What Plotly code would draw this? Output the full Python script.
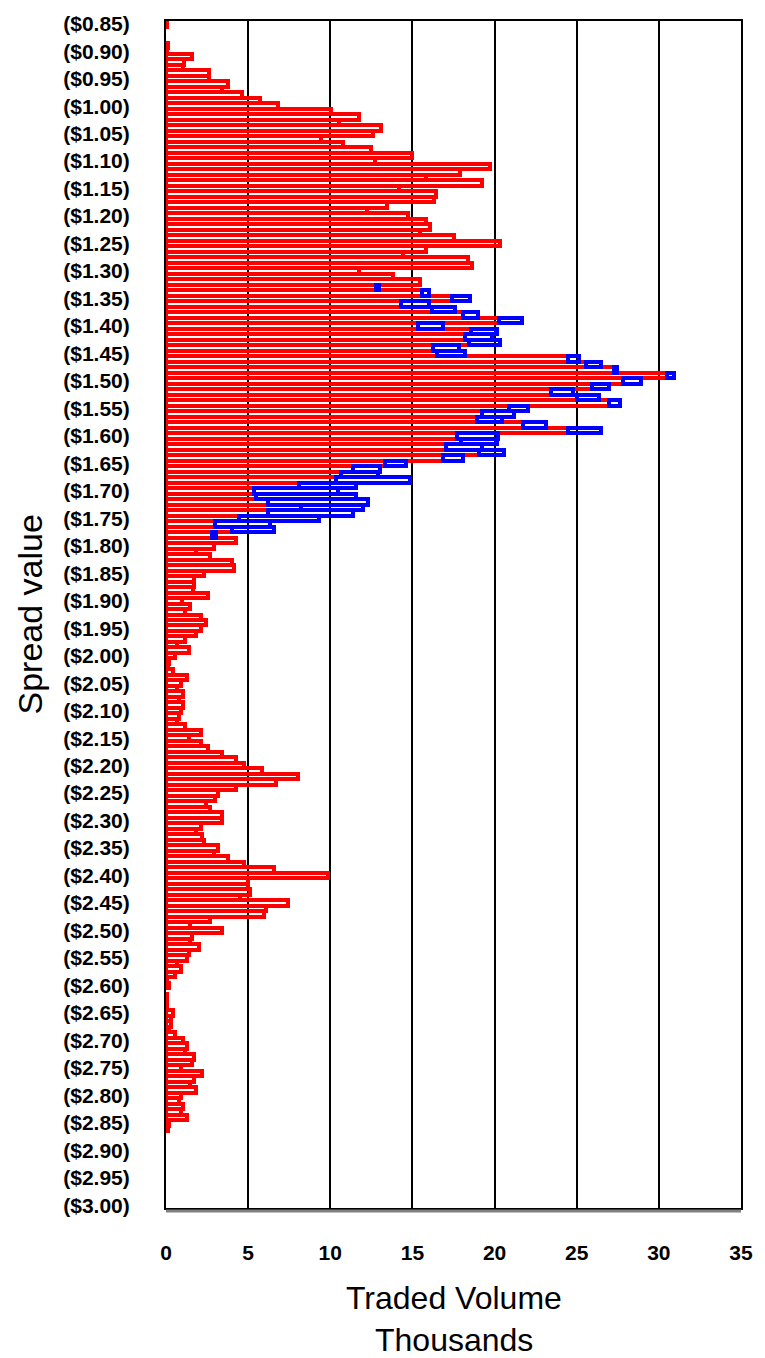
import plotly.graph_objects as go

# Spread values (categories), $0.85 .. $3.00 in cent steps
spread_cents = list(range(85, 301))
spread_labels = [f"(${c/100:.2f})" for c in spread_cents]
tick_labels = [lab for c, lab in zip(spread_cents, spread_labels) if c % 5 == 0]

# Traded volume (thousands) - first (red) series, one value per spread level
red_volume = [
    0.08, 0, 0, 0, 0.15, 0.05, 1.6, 1.12, 1.01, 2.59,
    2.59, 3.77, 3.43, 4.64, 5.72, 6.79, 10.03, 11.76, 10.55, 13.07,
    12.6, 9.45, 10.79, 12.47, 14.99, 12.7, 19.72, 17.9, 15.85, 19.24,
    14.17, 16.44, 16.33, 13.44, 12.21, 14.75, 15.85, 16.09, 15.49, 17.56,
    20.32, 15.85, 14.41, 18.4, 18.64, 11.76, 13.8, 15.49, 12.77, 15.6,
    17.43, 14.3, 16.18, 18.1, 20.27, 15.34, 18.55, 18.22, 18.43, 16.27,
    16.48, 24.47, 25.54, 27.26, 30.5, 27.82, 25.92, 23.41, 25.03, 26.95,
    20.88, 19.26, 18.96, 21.72, 24.47, 17.74, 17.94, 17.03, 19.06, 16.86,
    13.31, 11.36, 10.66, 10.33, 8.12, 5.34, 5.49, 6.2, 8.2, 6.21,
    4.42, 2.98, 3.99, 2.8, 4.27, 2.93, 1.83, 2.7, 4.03, 4.14,
    2.33, 1.73, 1.73, 1.62, 2.57, 1.0, 1.49, 1.13, 2.1, 2.46,
    2.1, 1.85, 1.13, 0.65, 1.37, 0.52, 0.16, 0.1, 0.4, 1.25,
    0.89, 0.65, 1.01, 0.77, 1.01, 0.89, 0.77, 0.65, 1.13, 2.1,
    1.37, 2.1, 2.58, 3.43, 4.27, 4.76, 5.85, 8.04, 6.69, 4.27,
    3.19, 3.0, 2.46, 2.7, 3.43, 3.43, 2.1, 1.85, 2.22, 2.34,
    3.19, 2.94, 3.79, 4.76, 6.57, 9.84, 5.0, 5.0, 5.12, 4.52,
    7.42, 6.09, 5.97, 2.7, 1.49, 3.43, 1.61, 1.49, 1.98, 1.37,
    1.25, 0.65, 0.89, 0.52, 0.04, 0.16, 0, 0.05, 0.05, 0.08,
    0.4, 0.28, 0.28, 0.16, 0.52, 1.01, 1.25, 1.13, 1.73, 1.61,
    0.89, 2.22, 1.73, 1.49, 1.85, 0.89, 0.77, 1.01, 0.89, 1.25,
    0.16, 0.1, 0, 0, 0, 0, 0, 0, 0, 0,
    0, 0, 0, 0, 0, 0,
]

# Second (blue) series, present only from ($1.33) to ($1.78)
blue_first_label = "($1.33)"
blue_volume = [
    0.2, 0.4, 1.08, 1.68, 1.42, 0.91, 1.37, 1.52, 1.57, 1.65,
    1.9, 1.55, 1.72, 0.66, 0.96, 0.2, 0.45, 1.08, 1.03, 1.37,
    1.32, 0.71, 1.14, 1.9, 1.52, 1.39, 2.03, 2.48, 2.18, 2.23,
    1.52, 1.21, 1.27, 1.65, 2.25, 4.5, 3.45, 5.14, 6.08, 6.1,
    3.79, 5.18, 4.92, 3.34, 2.57, 0.26,
]
start = spread_labels.index(blue_first_label)
blue_labels = spread_labels[start:start + len(blue_volume)]

x_ticks = [0, 5, 10, 15, 20, 25, 30, 35]

FONT = "Liberation Sans, Arial, sans-serif"

# empty levels are left without a bar
red_plot = [v if v > 0 else None for v in red_volume]

fig = go.Figure()
fig.add_trace(go.Bar(
    x=red_plot, y=spread_labels, orientation="h",
    marker=dict(color="rgba(0,0,0,0)", line=dict(color="#FF0000", width=4)),
    showlegend=False, hoverinfo="x+y",
))
fig.add_trace(go.Bar(
    x=blue_volume, y=blue_labels, orientation="h",
    marker=dict(color="rgba(0,0,0,0)", line=dict(color="#0000FF", width=4)),
    showlegend=False, hoverinfo="x+y",
))

fig.update_layout(
    width=765, height=1358,
    margin=dict(l=166, r=17, t=12, b=150),
    paper_bgcolor="white", plot_bgcolor="white",
    barmode="stack", bargap=0,
    font=dict(family=FONT, color="black"),
    xaxis=dict(
        range=[0, 35], tickvals=x_ticks, ticktext=[str(v) for v in x_ticks],
        showgrid=True, gridcolor="black", gridwidth=2,
        showline=True, linecolor="black", linewidth=2, mirror=True,
        zeroline=False, ticks="",
        tickfont=dict(family=FONT, size=21, weight="bold", color="black"),
        ticklabelstandoff=25,
    ),
    yaxis=dict(
        type="category", categoryorder="array", categoryarray=spread_labels,
        autorange="reversed",
        tickvals=tick_labels, ticktext=tick_labels,
        showgrid=False, showline=True, linecolor="black", linewidth=2, mirror=True,
        zeroline=False, ticks="",
        tickfont=dict(family=FONT, size=21, weight="bold", color="black"),
        ticklabelstandoff=30,
    ),
    annotations=[
        dict(text="Traded Volume", xref="paper", yref="paper", x=0.5, y=0,
             xanchor="center", yanchor="middle",
             yshift=-90, showarrow=False, font=dict(family=FONT, size=32, color="black")),
        dict(text="Thousands", xref="paper", yref="paper", x=0.5, y=0,
             xanchor="center", yanchor="middle",
             yshift=-132, showarrow=False, font=dict(family=FONT, size=32, color="black")),
        dict(text="Spread value", xref="paper", yref="paper", x=0, y=0.5,
             xanchor="center", yanchor="middle",
             xshift=-137, textangle=-90, showarrow=False,
             font=dict(family=FONT, size=34, color="black")),
    ],
    shapes=[
        dict(type="line", xref="paper", yref="paper", x0=0, x1=1,
             ysizemode="pixel", yanchor=0, y0=-3, y1=-3,
             line=dict(color="#808080", width=3)),
    ],
)

fig.write_html(
    "out.html",
    config={"displayModeBar": False},
    post_script="document.body.style.margin='0';document.body.style.overflow='hidden';",
)
